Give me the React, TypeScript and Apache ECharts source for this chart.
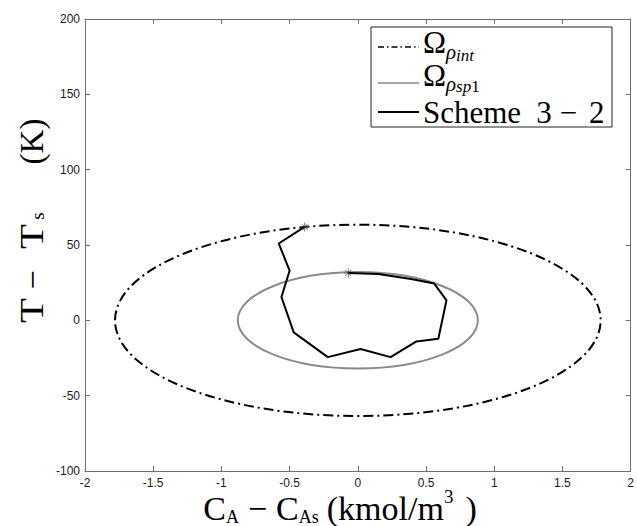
import React, { useEffect, useRef } from "react";
import * as echarts from "echarts";

// ---- data ----
const xTickValues = [-2, -1.5, -1, -0.5, 0, 0.5, 1, 1.5, 2];
const yTickValues = [-100, -50, 0, 50, 100, 150, 200];

const trajectoryX = [-0.39, -0.58, -0.5, -0.56, -0.47, -0.22, 0.02, 0.24, 0.43, 0.59, 0.65, 0.56, 0.39, 0.15, -0.07];
const trajectoryY = [62, 51, 33, 15.5, -8, -24.4, -19, -24.4, -14, -12.2, 13.3, 24.4, 27.5, 30.8, 31.4];

// level-set regions: [centre x, centre y, semi-axis along x, semi-axis along y]
const outerRegion = [0, 0, 1.78, 63.5];
const innerRegion = [0, 0, 0.88, 32];

const markerX = [-0.39, -0.07];
const markerY = [62, 31.4];

const AXIS_COLOR = "#707070";
const SERIF = "'Liberation Serif', 'Times New Roman', serif";
const SANS = "'Liberation Sans', Arial, sans-serif";

type Piece = { t: string; size: number; dy?: number; italic?: boolean; gap?: number };

let measureCtx: CanvasRenderingContext2D | null = null;
function fontOf(p: Piece) {
  return `${p.italic ? "italic " : ""}${p.size}px ${SERIF}`;
}
function measure(p: Piece) {
  if (!measureCtx) measureCtx = document.createElement("canvas").getContext("2d");
  if (!measureCtx) return p.t.length * p.size * 0.5;
  measureCtx.font = fontOf(p);
  return measureCtx.measureText(p.t).width;
}

// lays a run of text pieces (with sub/superscripts) out left to right
function textRun(x: number, y: number, pieces: Piece[], anchor: "left" | "center", z = 101) {
  const widths = pieces.map(measure);
  const total = pieces.reduce((s, p, i) => s + (p.gap || 0) + widths[i], 0);
  let cur = anchor === "center" ? x - total / 2 : x;
  return pieces.map((p, i) => {
    cur += p.gap || 0;
    const el = {
      type: "text",
      z,
      x: cur,
      y: y + (p.dy || 0),
      style: {
        text: p.t,
        font: fontOf(p),
        lineHeight: Math.round(p.size * 0.8),
        fill: "#000",
        align: "left",
        verticalAlign: "middle",
      },
    };
    cur += widths[i];
    return el;
  });
}

function ellipseRenderer(stroke: string, lineWidth: number, lineDash: number[] | null) {
  return (_params: any, api: any) => {
    const c = api.coord([api.value(0), api.value(1)]);
    const e = api.coord([api.value(0) + api.value(2), api.value(1) + api.value(3)]);
    return {
      type: "ellipse",
      shape: { cx: c[0], cy: c[1], rx: Math.abs(e[0] - c[0]), ry: Math.abs(c[1] - e[1]) },
      style: { fill: "none", stroke, lineWidth, lineDash: lineDash || undefined },
    };
  };
}

function makeXAxis(position: "bottom" | "top", showLabel: boolean) {
  return {
    type: "value",
    position,
    min: xTickValues[0],
    max: xTickValues[xTickValues.length - 1],
    interval: xTickValues[1] - xTickValues[0],
    axisLine: { show: true, onZero: false, lineStyle: { color: AXIS_COLOR, width: 1 } },
    axisTick: { show: true, inside: true, length: 5, lineStyle: { color: AXIS_COLOR } },
    axisLabel: { show: showLabel, color: "#1a1a1a", fontSize: 12, fontFamily: SANS, margin: 6 },
    splitLine: { show: false },
  };
}

function makeYAxis(position: "left" | "right", showLabel: boolean) {
  return {
    type: "value",
    position,
    min: yTickValues[0],
    max: yTickValues[yTickValues.length - 1],
    interval: yTickValues[1] - yTickValues[0],
    axisLine: { show: true, onZero: false, lineStyle: { color: AXIS_COLOR, width: 1 } },
    axisTick: { show: true, inside: true, length: 5, lineStyle: { color: AXIS_COLOR } },
    axisLabel: { show: showLabel, color: "#1a1a1a", fontSize: 12, fontFamily: SANS, margin: 5 },
    splitLine: { show: false },
  };
}

export default function App() {
  const ref = useRef<HTMLDivElement>(null);

  useEffect(() => {
    if (!ref.current) return;
    const chart = echarts.init(ref.current, null, { renderer: "svg" });

    const tStyle = (text: string, size: number) => ({
      text,
      font: `${size}px ${SERIF}`,
      fill: "#000",
      align: "center",
      verticalAlign: "middle",
    });

    const legendRow1 = textRun(423, 42, [
      { t: "Ω", size: 31 },
      { t: "ρ", size: 21, dy: 10, italic: true },
      { t: "int", size: 17, dy: 13, italic: true },
    ], "left");
    const legendRow2 = textRun(423, 75, [
      { t: "Ω", size: 31 },
      { t: "ρ", size: 21, dy: 9, italic: true },
      { t: "sp", size: 17, dy: 11, italic: true },
      { t: "1", size: 17, dy: 11 },
    ], "left");
    const legendRow3 = textRun(423, 112, [
      { t: "Scheme", size: 31 },
      { t: "3", size: 31, gap: 15 },
      { t: "−", size: 31, gap: 8 },
      { t: "2", size: 31, gap: 12 },
    ], "left");

    const xTitle = textRun(340, 508, [
      { t: "C", size: 34 },
      { t: "A", size: 18, dy: 9 },
      { t: "−", size: 34, gap: 9 },
      { t: "C", size: 34, gap: 9 },
      { t: "As", size: 18, dy: 9 },
      { t: "(kmol/m", size: 34, gap: 8 },
      { t: "3", size: 19, dy: -12 },
      { t: ")", size: 34, gap: 12 },
    ], "center", 1);

    const option: any = {
      animation: false,
      backgroundColor: "#fff",
      grid: { left: 85, right: 2, top: 19, bottom: 55, containLabel: false },
      xAxis: [makeXAxis("bottom", true), makeXAxis("top", false)],
      yAxis: [makeYAxis("left", true), makeYAxis("right", false)],
      series: [
        {
          type: "custom",
          xAxisIndex: 0,
          yAxisIndex: 0,
          silent: true,
          encode: { x: 0, y: 1 },
          data: [outerRegion],
          renderItem: ellipseRenderer("#000", 2, [10, 4, 2, 4]),
        },
        {
          type: "custom",
          xAxisIndex: 0,
          yAxisIndex: 0,
          silent: true,
          encode: { x: 0, y: 1 },
          data: [innerRegion],
          renderItem: ellipseRenderer("#8a8a8a", 2, null),
        },
        {
          type: "line",
          xAxisIndex: 0,
          yAxisIndex: 0,
          silent: true,
          symbol: "none",
          data: trajectoryX.map((x, i) => [x, trajectoryY[i]]),
          lineStyle: { color: "#000", width: 2 },
        },
        {
          type: "scatter",
          xAxisIndex: 0,
          yAxisIndex: 0,
          silent: true,
          symbol: "path://M5 0L5 10M0 5L10 5M1.5 1.5L8.5 8.5M1.5 8.5L8.5 1.5",
          symbolSize: 9,
          data: markerX.map((x, i) => [x, markerY[i]]),
          itemStyle: { color: "transparent", borderColor: "#555", borderWidth: 1 },
        },
      ],
      graphic: [
        // legend
        {
          type: "rect",
          z: 100,
          shape: { x: 371, y: 27, width: 241, height: 100 },
          style: { fill: "#fff", stroke: "#222", lineWidth: 1 },
        },
        {
          type: "line",
          z: 101,
          shape: { x1: 378, y1: 47, x2: 419, y2: 47 },
          style: { stroke: "#000", lineWidth: 1.5, lineDash: [6, 3, 1.5, 3] },
        },
        {
          type: "line",
          z: 101,
          shape: { x1: 378, y1: 83, x2: 419, y2: 83 },
          style: { stroke: "#8a8a8a", lineWidth: 1.5 },
        },
        {
          type: "line",
          z: 101,
          shape: { x1: 378, y1: 112, x2: 419, y2: 112 },
          style: { stroke: "#000", lineWidth: 2 },
        },
        ...legendRow1,
        ...legendRow2,
        ...legendRow3,
        // x-axis title
        ...xTitle,
        // y-axis title (rotated, reads bottom to top)
        {
          type: "group",
          x: 32,
          y: 328,
          rotation: Math.PI / 2,
          children: [
            { type: "text", x: 17.5, y: 0, scaleX: 1.2, style: tStyle("T", 34) },
            { type: "text", x: 48, y: 0, style: tStyle("−", 34) },
            { type: "text", x: 91.5, y: 0, scaleX: 1.2, style: tStyle("T", 34) },
            { type: "text", x: 112, y: 5, style: tStyle("s", 19) },
            { type: "text", x: 186.5, y: 0, style: tStyle("(K)", 33) },
          ],
        },
      ],
    };

    chart.setOption(option);
    return () => chart.dispose();
  }, []);

  return (
    <div
      ref={ref}
      style={{ position: "fixed", left: 0, top: 0, width: 637, height: 526, background: "#fff" }}
    />
  );
}
